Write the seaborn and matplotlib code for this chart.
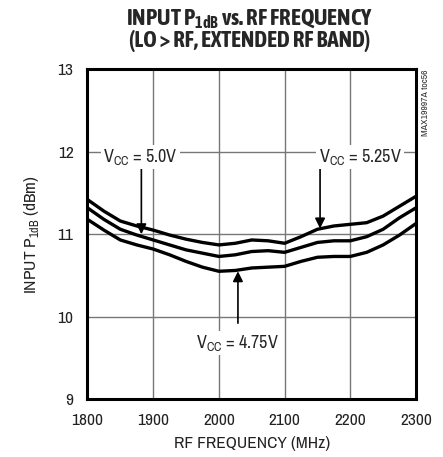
import matplotlib
matplotlib.use('Agg')
import matplotlib.pyplot as plt
from matplotlib import font_manager
import seaborn as sns
import pandas as pd

# Values
freq_mhz = [1800, 1825, 1850, 1875, 1900, 1925, 1950, 1975, 2000, 2025, 2050,
            2075, 2100, 2125, 2150, 2175, 2200, 2225, 2250, 2275, 2300]
p1db_525 = [11.42, 11.28, 11.16, 11.10, 11.05, 10.99, 10.94, 10.90, 10.87, 10.89, 10.93,
            10.92, 10.89, 10.97, 11.06, 11.10, 11.12, 11.14, 11.22, 11.34, 11.46]
p1db_500 = [11.32, 11.18, 11.06, 10.99, 10.93, 10.87, 10.81, 10.77, 10.73, 10.75, 10.79,
            10.80, 10.78, 10.84, 10.90, 10.92, 10.92, 10.97, 11.06, 11.20, 11.32]
p1db_475 = [11.18, 11.05, 10.93, 10.87, 10.82, 10.75, 10.67, 10.60, 10.55, 10.56, 10.59,
            10.60, 10.61, 10.67, 10.72, 10.73, 10.73, 10.78, 10.87, 10.99, 11.13]
series_names = ['5.25V', '5.0V', '4.75V']
x_ticks = [1800, 1900, 2000, 2100, 2200, 2300]
y_ticks = [9, 10, 11, 12, 13]

sns.set_theme(style='white')


def is_bold(w):
    if isinstance(w, str):
        return 'bold' in w.lower() or w.lower() in ('black', 'heavy')
    return w >= 700


# prefer a narrow/condensed sans face if one is installed
entries = font_manager.fontManager.ttflist
narrow = sorted({f.name for f in entries if 'Narrow' in f.name or 'Condensed' in f.name})
narrow_bold = sorted({f.name for f in entries
                      if ('Narrow' in f.name or 'Condensed' in f.name) and is_bold(f.weight)})
base = narrow[0] if narrow else 'Liberation Sans'
title_font = narrow_bold[0] if narrow_bold else base
plt.rcParams['font.family'] = [base, 'DejaVu Sans']
plt.rcParams['font.stretch'] = 'condensed'
plt.rcParams['mathtext.fontset'] = 'custom'
plt.rcParams['mathtext.rm'] = base

df = pd.DataFrame({
    'freq': freq_mhz * 3,
    'p1db': p1db_525 + p1db_500 + p1db_475,
    'vcc': [n for n in series_names for _ in freq_mhz],
})

fig = plt.figure(figsize=(4.43, 4.57), dpi=100)
ax = fig.add_axes([0.1975, 0.127, 0.7415, 0.721])

sns.lineplot(data=df, x='freq', y='p1db', units='vcc', estimator=None,
             color='black', lw=2.4, ax=ax, legend=False)

ax.set_xlim(1800, 2300)
ax.set_ylim(9, 13)
ax.set_xticks(x_ticks)
ax.set_yticks(y_ticks)
ax.tick_params(axis='x', length=0, labelsize=12.5, colors='#222222', pad=10)
ax.tick_params(axis='y', length=0, labelsize=12.5, colors='#222222', pad=10)
ax.grid(True, color='#777777', lw=1.0)
for s in ax.spines.values():
    s.set_color('black')
    s.set_linewidth(2.2)

ax.set_xlabel('RF FREQUENCY (MHz)', fontsize=12.5, color='#222222', labelpad=6)
ax.set_ylabel(r'INPUT P$_{\mathregular{1dB}}$ (dBm)', fontsize=12.5, color='#222222',
              labelpad=12)

title_kw = dict(ha='center', va='center', fontsize=16.5, fontweight='bold',
                family=[title_font, 'DejaVu Sans'])
fig.text(0.564, 0.959, r'INPUT P$_{\mathregular{1dB}}$ vs. RF FREQUENCY', **title_kw)
fig.text(0.564, 0.911, '(LO > RF, EXTENDED RF BAND)', **title_kw)
fig.text(0.961, 0.848, 'MAX19997A toc56', rotation=90, ha='center', va='top',
         fontsize=7, color='#333333')

box = dict(facecolor='white', edgecolor='none', pad=1.5)
arrow = dict(arrowstyle='-|>', color='black', lw=1.2, mutation_scale=15,
             shrinkA=0, shrinkB=0)
ax.annotate('', xy=(1882, 11.0), xytext=(1882, 11.81), arrowprops=arrow)
ax.text(1880, 11.94, r'V$_{\mathregular{CC}}$ = 5.0V', ha='center', va='center',
        fontsize=13, bbox=box)
ax.annotate('', xy=(2154, 11.07), xytext=(2154, 11.84), arrowprops=arrow)
ax.text(2215, 11.94, r'V$_{\mathregular{CC}}$ = 5.25V', ha='center', va='center',
        fontsize=13, bbox=box)
ax.annotate('', xy=(2029, 10.55), xytext=(2029, 9.92), arrowprops=arrow)
ax.text(2029, 9.68, r'V$_{\mathregular{CC}}$ = 4.75V', ha='center', va='center',
        fontsize=13, bbox=box)

fig.savefig('out.png', dpi=100, facecolor='white')
